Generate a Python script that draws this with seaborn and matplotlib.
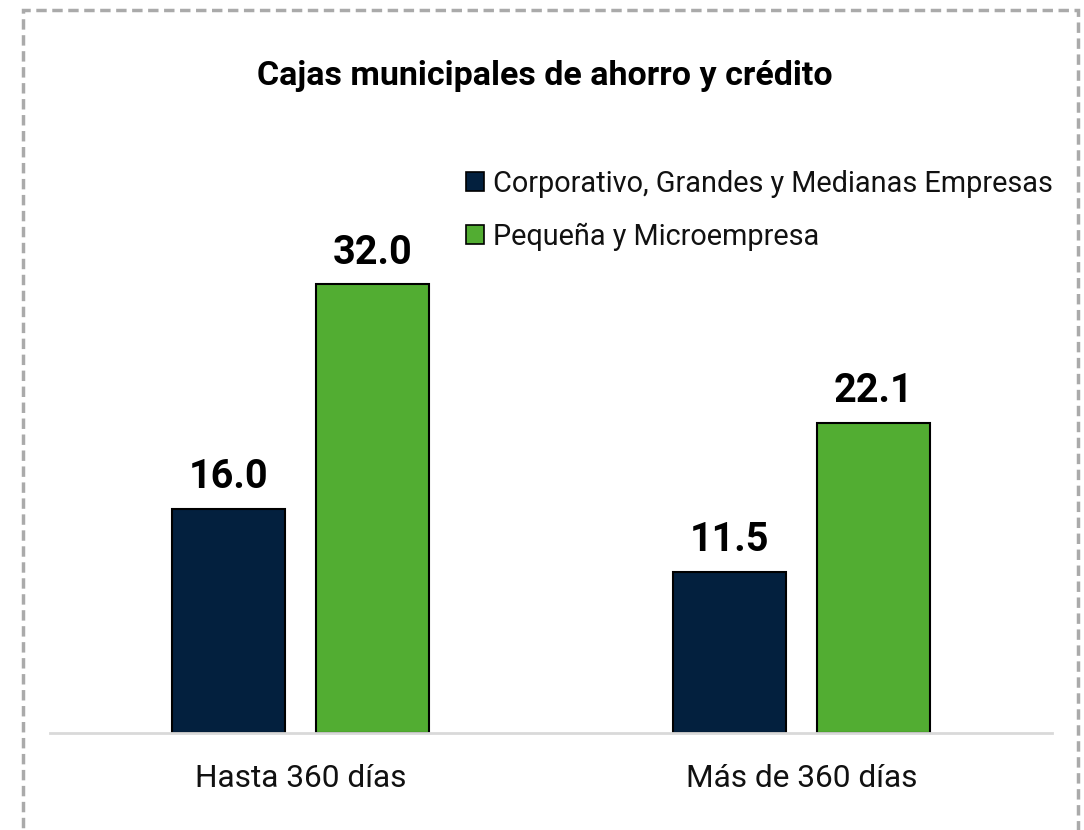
import matplotlib
matplotlib.use("Agg")
import matplotlib.pyplot as plt
import seaborn as sns
import pandas as pd
from matplotlib.patches import Rectangle, Patch

categories = ["Hasta 360 días", "Más de 360 días"]
series_names = ["Corporativo, Grandes y Medianas Empresas", "Pequeña y Microempresa"]
corporativo = [16.0, 11.5]
pequena = [32.0, 22.1]
colors = ["#03203E", "#52AD32"]
title = "Cajas municipales de ahorro y crédito"

sns.set_theme(style="white")
plt.rcParams['font.family'] = ['Roboto', 'DejaVu Sans']

df = pd.DataFrame({
    "cat": categories * 2,
    "serie": [series_names[0]] * 2 + [series_names[1]] * 2,
    "val": corporativo + pequena,
})

W, H = 1084, 830
fig = plt.figure(figsize=(W / 100, H / 100), dpi=100)
ax = fig.add_axes([50 / W, 1 - 733 / H, (1052 - 50) / W, (733 - 150) / H])

sns.barplot(data=df, x="cat", y="val", hue="serie", order=categories,
            hue_order=series_names, palette=colors, saturation=1, width=0.572, gap=0.211,
            edgecolor="black", linewidth=1.5, ax=ax, legend=False)

ax.set_xlim(-0.5, 1.5)
ax.set_ylim(0, 583 / 14.03)
for c in ax.containers:
    ax.bar_label(c, fmt="%.1f", padding=9, fontsize=28.5, fontweight="bold", color="black")

for s in ["top", "right", "left"]:
    ax.spines[s].set_visible(False)
ax.spines["bottom"].set_color("#d9d9d9")
ax.spines["bottom"].set_linewidth(2)
ax.set_yticks([])
ax.set_xlabel("")
ax.set_ylabel("")
ax.tick_params(axis="x", length=0, pad=22, labelsize=22.8, labelcolor="#111111")

fig.text(545 / W, 1 - 76 / H, title, ha="center", va="center", fontsize=24.5,
         fontweight="bold", color="black")

handles = [Patch(facecolor=colors[i], edgecolor="black", linewidth=1.2, label=series_names[i])
           for i in range(2)]
fig.legend(handles=handles, loc="upper left", bbox_to_anchor=(466 / W, 1 - 170 / H),
           frameon=False, fontsize=20.8, handlelength=0.62, handleheight=0.62,
           handletextpad=0.3, labelspacing=0.85, borderaxespad=0, borderpad=0,
           labelcolor="#111111")

border = Rectangle((23 / W, -0.05), (1078 - 23) / W, 1 - 10 / H + 0.05,
                   transform=fig.transFigure, fill=False, edgecolor="#aaaaaa",
                   linewidth=2.5, linestyle=(0, (3, 1.6)), clip_on=False)
fig.patches.append(border)

fig.savefig("out.png", dpi=100)
